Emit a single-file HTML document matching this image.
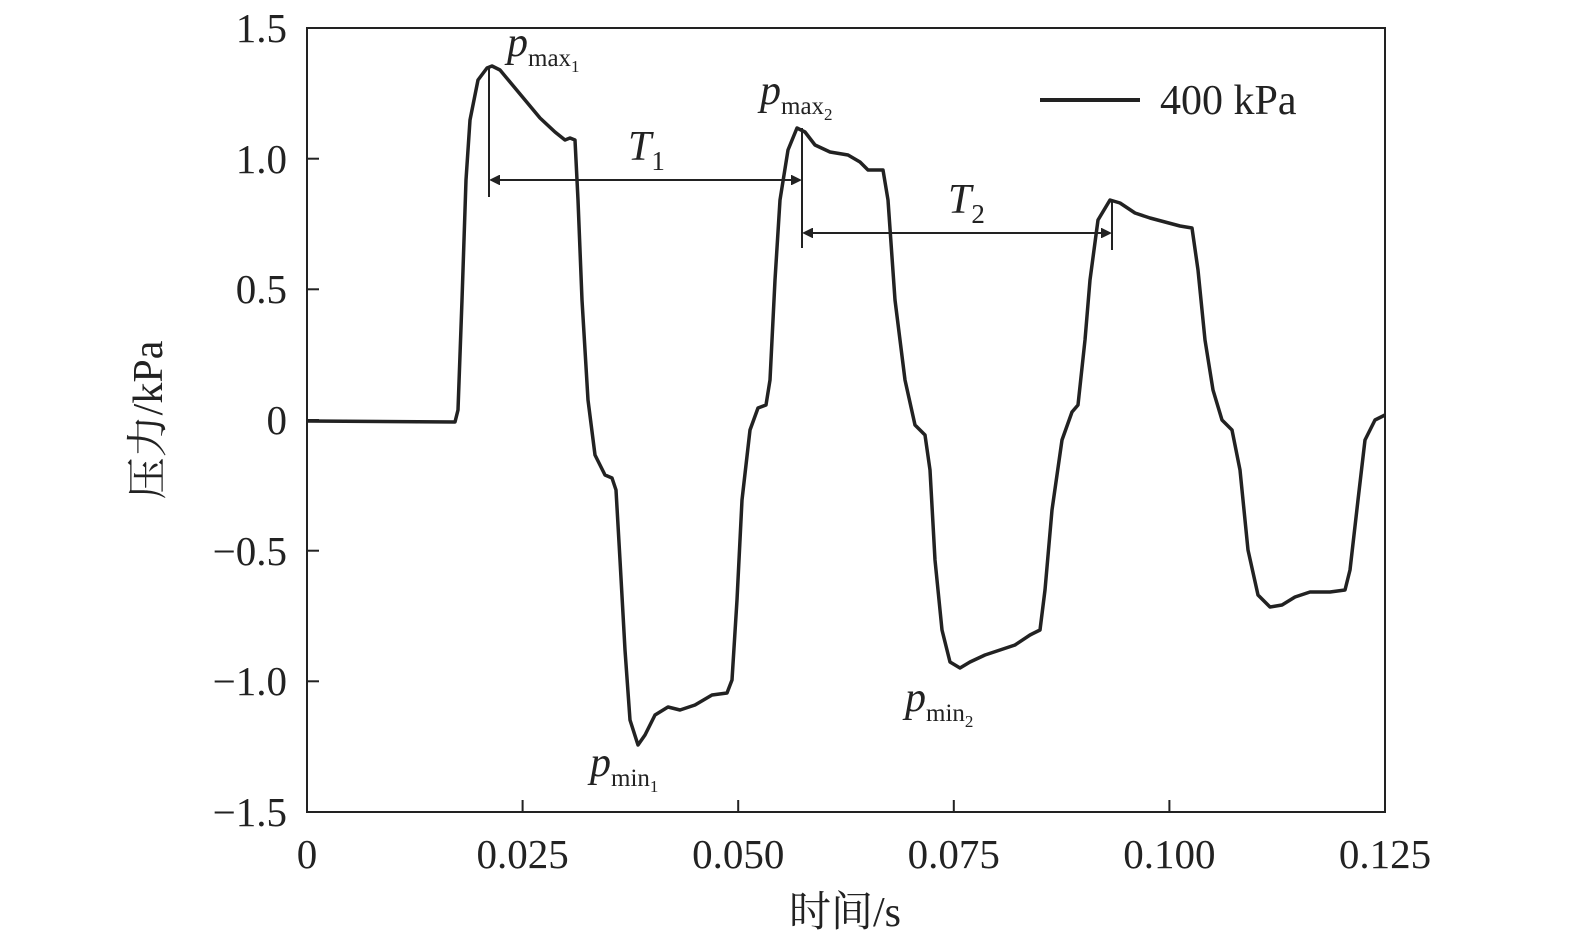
<!DOCTYPE html>
<html><head><meta charset="utf-8"><style>
body{margin:0;background:#fff}
svg{display:block}
text{font-family:"Liberation Serif","Noto Serif CJK SC",serif;fill:#222}
</style></head><body>
<svg width="1575" height="947" viewBox="0 0 1575 947" xmlns="http://www.w3.org/2000/svg">
<defs><marker id="ah" markerWidth="10" markerHeight="10" refX="9" refY="5" orient="auto-start-reverse" markerUnits="userSpaceOnUse"><path d="M0,0 L10,5 L0,10 z" fill="#222" transform="scale(2.4) translate(-5.5,-2.9)"/></marker></defs>
<rect x="307" y="28" width="1078" height="784" fill="none" stroke="#222" stroke-width="2"/>
<g stroke="#222" stroke-width="2">
<line x1="522.6" y1="812" x2="522.6" y2="800"/><line x1="738.2" y1="812" x2="738.2" y2="800"/><line x1="953.8" y1="812" x2="953.8" y2="800"/><line x1="1169.4" y1="812" x2="1169.4" y2="800"/>
<line x1="307" y1="158.7" x2="319" y2="158.7"/><line x1="307" y1="289.3" x2="319" y2="289.3"/><line x1="307" y1="420" x2="319" y2="420"/><line x1="307" y1="550.7" x2="319" y2="550.7"/><line x1="307" y1="681.3" x2="319" y2="681.3"/>
</g>
<g font-size="41" text-anchor="end">
<text x="287" y="42">1.5</text><text x="287" y="173">1.0</text><text x="287" y="303">0.5</text><text x="287" y="434">0</text><text x="287" y="565">−0.5</text><text x="287" y="695">−1.0</text><text x="287" y="826">−1.5</text>
</g>
<g font-size="41" text-anchor="middle">
<text x="307" y="868">0</text><text x="522.6" y="868">0.025</text><text x="738.2" y="868">0.050</text><text x="953.8" y="868">0.075</text><text x="1169.4" y="868">0.100</text><text x="1385" y="868">0.125</text>
<text x="845" y="926" font-size="42">时间/s</text>
</g>
<text transform="translate(162,420) rotate(-90)" font-size="42" text-anchor="middle">压力/kPa</text>
<polyline fill="none" stroke="#222" stroke-width="3.5" stroke-linejoin="round" points="307,421 455,422 458,410 462,300 466,180 470,120 478,80 487,68 492,66 500,70 510,82 525,100 540,118 555,132 565,140 570,138 575,140 578,200 582,300 588,400 595,455 605,475 612,478 616,490 620,560 625,650 630,720 638,745 645,735 655,715 668,707 680,710 695,705 712,695 727,693 732,680 737,600 742,500 750,430 758,408 766,405 770,380 775,280 780,200 788,150 797,128 805,132 815,145 830,152 848,155 860,162 868,170 883,170 888,200 895,300 905,380 915,425 925,435 930,470 935,560 942,630 950,662 960,668 970,662 985,655 1000,650 1015,645 1030,635 1040,630 1045,590 1052,510 1062,440 1072,412 1078,405 1085,340 1090,280 1098,220 1110,200 1120,203 1135,213 1150,218 1165,222 1180,226 1192,228 1198,270 1205,340 1213,390 1222,420 1232,430 1240,470 1248,550 1258,595 1270,607 1282,605 1295,597 1310,592 1330,592 1345,590 1350,570 1358,500 1365,440 1375,420 1385,415"/>
<g stroke="#222" stroke-width="2">
<line x1="489" y1="66" x2="489" y2="197"/><line x1="802" y1="128" x2="802" y2="248"/><line x1="1112" y1="200" x2="1112" y2="250"/>
<line x1="491" y1="180" x2="800" y2="180" marker-start="url(#ah)" marker-end="url(#ah)"/>
<line x1="804" y1="233" x2="1110" y2="233" marker-start="url(#ah)" marker-end="url(#ah)"/>
<line x1="1040" y1="100" x2="1140" y2="100" stroke-width="4"/>
</g>
<text x="1160" y="114" font-size="42">400 kPa</text>
<g font-style="italic" font-size="42">
<text x="628" y="160">T<tspan font-size="27" font-style="normal" dy="10">1</tspan></text>
<text x="948" y="213">T<tspan font-size="27" font-style="normal" dy="10">2</tspan></text>
<text x="507" y="56">p<tspan font-size="25" font-style="normal" dy="10">max</tspan><tspan font-size="17" font-style="normal" dy="6">1</tspan></text>
<text x="760" y="104">p<tspan font-size="25" font-style="normal" dy="10">max</tspan><tspan font-size="17" font-style="normal" dy="6">2</tspan></text>
<text x="590" y="776">p<tspan font-size="25" font-style="normal" dy="10">min</tspan><tspan font-size="17" font-style="normal" dy="6">1</tspan></text>
<text x="905" y="711">p<tspan font-size="25" font-style="normal" dy="10">min</tspan><tspan font-size="17" font-style="normal" dy="6">2</tspan></text>
</g>
</svg>
</body></html>
